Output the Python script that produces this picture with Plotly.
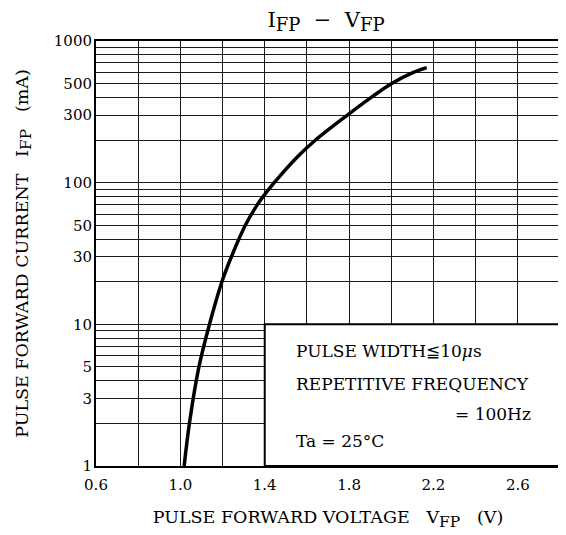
import plotly.graph_objects as go

# Curve (V, mA)
voltage = [1.018, 1.043, 1.088, 1.138, 1.197, 1.242, 1.308, 1.365, 1.393,
           1.445, 1.551, 1.641, 1.792, 1.905, 2.000, 2.105, 2.168]
current = [1, 2, 5, 10, 20, 30, 50, 70, 80,
           100, 150, 200, 300, 400, 500, 600, 649]

x_ticks = [0.6, 1.0, 1.4, 1.8, 2.2, 2.6]
x_grid = [0.6, 0.8, 1.0, 1.2, 1.4, 1.6, 1.8, 2.0, 2.2, 2.4, 2.6, 2.8]
y_ticks = [1, 3, 5, 10, 30, 50, 100, 300, 500, 1000]
y_grid = [m * d for d in (1, 10, 100) for m in range(1, 10)] + [1000]

FONT = "DejaVu Serif"
SUB = "<sub><span style='font-size:15.5px'>FP</span></sub>"

fig = go.Figure()
fig.add_trace(go.Scatter(
    x=voltage, y=current, mode="lines",
    line=dict(color="black", width=3.5, shape="spline", smoothing=1.0),
    showlegend=False, hoverinfo="skip"))

axis_common = dict(
    showline=True, linecolor="black", linewidth=2, mirror=True,
    showgrid=True, gridcolor="#1a1a1a", gridwidth=1.1,
    zeroline=False, ticks="",
    tickfont=dict(family=FONT, size=15, color="black"),
)

fig.update_xaxes(
    range=[0.6, 2.8],
    tickmode="array",
    tickvals=x_ticks,
    ticktext=[f"{v:.1f}" for v in x_ticks],
    minor=dict(tickmode="array", tickvals=x_grid, showgrid=True,
               gridcolor="#1a1a1a", gridwidth=1.1, ticks=""),
    ticklabelstandoff=4,
    title=dict(text="PULSE FORWARD VOLTAGE   V" + SUB + "   (V)",
               font=dict(family=FONT, size=17.5, color="black"), standoff=18),
    **axis_common)

fig.update_yaxes(
    type="log", range=[0, 3],
    tickmode="array",
    tickvals=y_ticks,
    ticktext=[str(v) for v in y_ticks],
    minor=dict(tickmode="array", tickvals=y_grid, showgrid=True,
               gridcolor="#1a1a1a", gridwidth=1.1, ticks=""),
    ticklabelstandoff=-1,
    title=dict(text="PULSE FORWARD CURRENT   I" + SUB + "   (mA)",
               font=dict(family=FONT, size=17.5, color="black"), standoff=21),
    **axis_common)

# White condition box covering the lower-right part of the grid
fig.add_shape(type="rect", xref="x", yref="y", x0=1.4, x1=2.8, y0=1, y1=10,
              fillcolor="white", line=dict(color="black", width=2), layer="above")

ann_font = dict(family=FONT, size=17, color="black")
fig.add_annotation(x=1.541, y=0.810, xref="x", yref="y", xanchor="left", yanchor="middle",
                   text="PULSE WIDTH≦10<i>μ</i>s", showarrow=False, font=ann_font)
fig.add_annotation(x=1.541, y=0.577, xref="x", yref="y", xanchor="left", yanchor="middle",
                   text="REPETITIVE FREQUENCY", showarrow=False, font=ann_font)
fig.add_annotation(x=2.67, y=0.365, xref="x", yref="y", xanchor="right", yanchor="middle",
                   text="= 100Hz", showarrow=False, font=ann_font)
fig.add_annotation(x=1.541, y=0.175, xref="x", yref="y", xanchor="left", yanchor="middle",
                   text="Ta = 25°C", showarrow=False, font=ann_font)

fig.update_layout(
    width=558, height=527,
    margin=dict(l=88, r=4, t=33, b=69),
    paper_bgcolor="white", plot_bgcolor="white",
    title=dict(text="I<sub><span style='font-size:18px'>FP</span></sub>  −  V<sub><span style='font-size:18px'>FP</span></sub>",
               x=0.570, xanchor="center", xref="container",
               y=0.978, yanchor="middle", yref="container",
               font=dict(family=FONT, size=21, color="black")),
)

fig.write_html("out.html")
